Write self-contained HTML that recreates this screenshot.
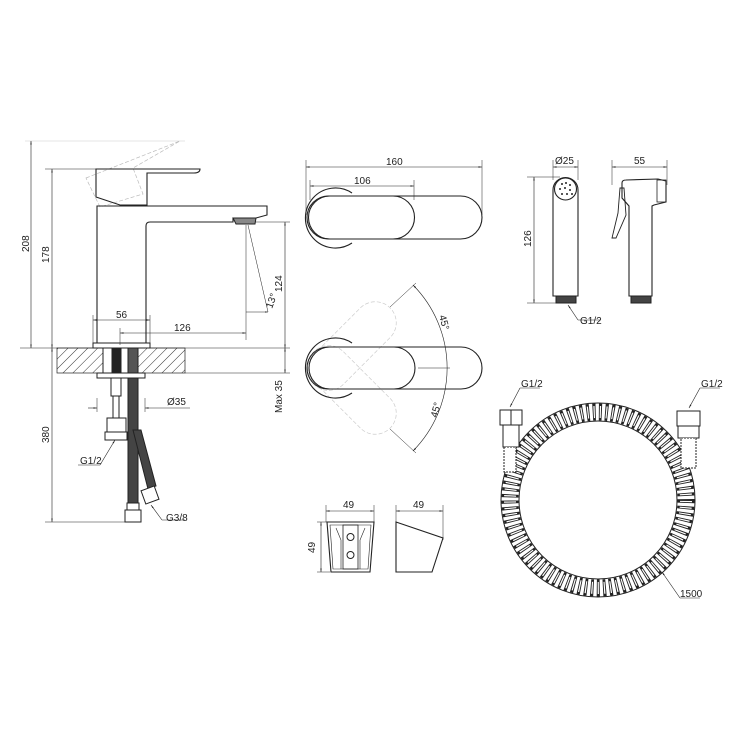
<!DOCTYPE html>
<html><head><meta charset="utf-8"><style>
html,body{margin:0;padding:0;background:#fff}
svg{display:block}
text{font-family:"Liberation Sans",sans-serif;font-size:10px;fill:#222}
</style></head><body>
<svg width="740" height="740" viewBox="0 0 740 740" xmlns="http://www.w3.org/2000/svg">
<defs>
<pattern id="hatch" width="7" height="7" patternUnits="userSpaceOnUse" patternTransform="rotate(45)">
<line x1="0" y1="0" x2="0" y2="7" stroke="#333" stroke-width="1"/>
</pattern>
<marker id="ar" viewBox="0 0 10 10" refX="10" refY="5" markerWidth="6" markerHeight="6" orient="auto-start-reverse"><path d="M0,3 L10,5 L0,7z" fill="#222"/></marker>
</defs>
<g fill="none" stroke="#222" stroke-width="1">
<line x1="25" y1="141" x2="185" y2="141" stroke="#ccc" stroke-width="0.6"/>
<line x1="45" y1="169" x2="96" y2="169" stroke-width="0.5"/>
<line x1="20" y1="348" x2="290" y2="348" stroke-width="0.5"/>
<line x1="185" y1="373" x2="290" y2="373" stroke-width="0.5"/>
<line x1="246" y1="222" x2="290" y2="222" stroke-width="0.5"/>
<line x1="45" y1="522" x2="130" y2="522" stroke-width="0.5"/>
<line x1="31" y1="141" x2="31" y2="348" stroke-width="0.6" marker-start="url(#ar)" marker-end="url(#ar)"/>
<line x1="52" y1="169" x2="52" y2="348" stroke-width="0.6" marker-start="url(#ar)" marker-end="url(#ar)"/>
<line x1="52" y1="348" x2="52" y2="522" stroke-width="0.6" marker-start="url(#ar)" marker-end="url(#ar)"/>
<line x1="285" y1="222" x2="285" y2="348" stroke-width="0.6" marker-start="url(#ar)" marker-end="url(#ar)"/>
<line x1="285" y1="348" x2="285" y2="373" stroke-width="0.6" marker-start="url(#ar)" marker-end="url(#ar)"/>
<line x1="93" y1="320" x2="150" y2="320" stroke-width="0.6" marker-start="url(#ar)" marker-end="url(#ar)"/>
<line x1="93" y1="315" x2="93" y2="343" stroke-width="0.5"/>
<line x1="150" y1="315" x2="150" y2="343" stroke-width="0.5"/>
<line x1="120" y1="333" x2="246" y2="333" stroke-width="0.6" marker-start="url(#ar)" marker-end="url(#ar)"/>
<line x1="120" y1="328" x2="120" y2="345" stroke-width="0.5"/>
<line x1="246" y1="225" x2="246" y2="340" stroke-width="0.5"/>
<line x1="248" y1="225" x2="268" y2="312" stroke-width="0.5"/>
<line x1="246" y1="312" x2="268" y2="312" stroke-width="0.5" marker-end="url(#ar)"/>
<line x1="88" y1="408" x2="97" y2="408" stroke-width="0.6" marker-end="url(#ar)"/>
<line x1="145" y1="408" x2="190" y2="408" stroke-width="0.6" marker-start="url(#ar)"/>
<line x1="97" y1="398" x2="97" y2="412" stroke-width="0.5"/>
<line x1="145" y1="398" x2="145" y2="412" stroke-width="0.5"/>
<g stroke="#bbb" stroke-dasharray="4,2" stroke-width="0.7">
<path d="M86,178 L180,141 L133,168 L143,194 L100,207 Z"/>
</g>
<path d="M96,169 L200,169 Q200,173 194,173 L147,173 L147,205 L120,205 L96,197 Z" stroke-width="1.1"/>
<path d="M97,343 L97,206 L267,206 L267,215 L256,218 L233,218 L233,222 L150,222 Q146,222 146,226 L146,343" stroke-width="1.1"/>
<path d="M233,218 L256,218 L255,224 L236,224 Z" fill="#888"/>
<rect x="93" y="343" width="57" height="5"/>
<rect x="57" y="348" width="128" height="25" fill="url(#hatch)" stroke-width="0.7"/>
<rect x="103" y="348" width="35" height="25" fill="#fff"/>
<rect x="112" y="348" width="9" height="25" fill="#222"/>
<rect x="128" y="348" width="10" height="25" fill="#555"/>
<rect x="97" y="373" width="48" height="5" fill="#fff"/>
<rect x="111" y="378" width="10" height="18" fill="#fff"/>
<rect x="113" y="396" width="6" height="22" fill="#fff"/>
<rect x="107" y="418" width="19" height="14" fill="#fff"/>
<rect x="105" y="432" width="22" height="8" fill="#fff"/>
<path d="M128,378 L138,378 L138,505 L128,505 Z" fill="#444"/>
<path d="M133,430 L141,430 L156,486 L148,489 Z" fill="#444"/>
<rect x="125" y="510" width="16" height="12" fill="#fff"/>
<rect x="127" y="503" width="12" height="7" fill="#fff"/>
<g transform="rotate(-20 150 495)"><rect x="143" y="488" width="14" height="14" fill="#fff"/></g>
<line x1="115" y1="440" x2="100" y2="465" stroke-width="0.6" marker-start="url(#ar)"/>
<line x1="100" y1="465" x2="78" y2="465" stroke-width="0.5"/>
<line x1="151" y1="505" x2="162" y2="520" stroke-width="0.6" marker-start="url(#ar)"/>
<line x1="162" y1="520" x2="185" y2="520" stroke-width="0.5"/>

<line x1="306" y1="160" x2="306" y2="215" stroke-width="0.5"/>
<line x1="482" y1="160" x2="482" y2="215" stroke-width="0.5"/>
<line x1="414" y1="180" x2="414" y2="200" stroke-width="0.5"/>
<line x1="310" y1="180" x2="310" y2="200" stroke-width="0.5"/>
<line x1="306" y1="167" x2="482" y2="167" stroke-width="0.6" marker-start="url(#ar)" marker-end="url(#ar)"/>
<line x1="310" y1="186" x2="414" y2="186" stroke-width="0.6" marker-start="url(#ar)" marker-end="url(#ar)"/>
<path d="M352,193 A30,30 0 1 0 352,243" stroke-width="1.1"/>
<rect x="307" y="196" width="175" height="43" rx="21.5" stroke-width="1.1"/>
<path d="M330,196 L393,196 A21.5,21.5 0 0 1 393,239 L330,239 A21.5,21.5 0 0 1 330,196" stroke-width="1.1"/>

<g stroke="#ccc" stroke-dasharray="4,2" stroke-width="0.7">
<g transform="rotate(-45 330 368)"><rect x="307" y="347" width="108" height="42" rx="21"/></g>
<g transform="rotate(45 330 368)"><rect x="307" y="347" width="108" height="42" rx="21"/></g>
</g>
<path d="M352,343 A30,30 0 1 0 352,393" stroke-width="1.1"/>
<rect x="307" y="347" width="175" height="42" rx="21" stroke-width="1.1"/>
<path d="M330,347 L394,347 A21,21 0 0 1 394,389 L330,389 A21,21 0 0 1 330,347" stroke-width="1.1"/>
<path d="M413,285 A118,118 0 0 1 413,451" stroke-width="0.6" marker-start="url(#ar)" marker-end="url(#ar)"/>
<line x1="390" y1="307" x2="416" y2="283" stroke-width="0.5"/>
<line x1="390" y1="429" x2="416" y2="453" stroke-width="0.5"/>
<line x1="418" y1="368" x2="450" y2="368" stroke-width="0.5"/>

<line x1="553" y1="160" x2="553" y2="180" stroke-width="0.5"/>
<line x1="578" y1="160" x2="578" y2="180" stroke-width="0.5"/>
<line x1="553" y1="167" x2="578" y2="167" stroke-width="0.6" marker-start="url(#ar)" marker-end="url(#ar)"/>
<line x1="527" y1="177" x2="560" y2="177" stroke-width="0.5"/>
<line x1="527" y1="303" x2="556" y2="303" stroke-width="0.5"/>
<line x1="534" y1="177" x2="534" y2="303" stroke-width="0.6" marker-start="url(#ar)" marker-end="url(#ar)"/>
<path d="M553,296 L553,190 A12.5,12.5 0 0 1 578,190 L578,296 Z" stroke-width="1.1"/>
<circle cx="565.5" cy="189" r="11" stroke-width="1.1"/>
<g fill="#222" stroke="none">
<circle cx="562" cy="184" r="1"/><circle cx="566" cy="183" r="1"/><circle cx="570" cy="185" r="1"/>
<circle cx="560" cy="189" r="1"/><circle cx="565" cy="188" r="1"/><circle cx="570" cy="190" r="1"/>
<circle cx="562" cy="194" r="1"/><circle cx="567" cy="194" r="1"/><circle cx="572" cy="194" r="1"/>
</g>
<rect x="556" y="296" width="20" height="7" fill="#444"/>
<line x1="568" y1="305" x2="578" y2="320" stroke-width="0.6" marker-start="url(#ar)"/>
<line x1="578" y1="320" x2="600" y2="320" stroke-width="0.5"/>

<line x1="612" y1="160" x2="612" y2="185" stroke-width="0.5"/>
<line x1="667" y1="160" x2="667" y2="185" stroke-width="0.5"/>
<line x1="612" y1="167" x2="667" y2="167" stroke-width="0.6" marker-start="url(#ar)" marker-end="url(#ar)"/>
<path d="M629,296 L629,206 L622,198 L622,183 Q622,180 626,180 L658,179 L666,181 L666,202 L654,205 L652,206 L652,296 Z" stroke-width="1.1"/>
<rect x="657" y="180" width="9" height="22" stroke-width="0.8"/>
<path d="M620,188 L624,188 L626,215 L616,238 L612,238 L618,213 Z" stroke-width="0.9"/>
<rect x="631" y="296" width="20" height="7" fill="#444"/>

<line x1="326" y1="505" x2="326" y2="522" stroke-width="0.5"/>
<line x1="374" y1="505" x2="374" y2="522" stroke-width="0.5"/>
<line x1="326" y1="511" x2="374" y2="511" stroke-width="0.6" marker-start="url(#ar)" marker-end="url(#ar)"/>
<line x1="317" y1="522" x2="330" y2="522" stroke-width="0.5"/>
<line x1="317" y1="572" x2="330" y2="572" stroke-width="0.5"/>
<line x1="321" y1="522" x2="321" y2="572" stroke-width="0.6" marker-start="url(#ar)" marker-end="url(#ar)"/>
<path d="M327,522 L374,522 L370,572 L331,572 Z" stroke-width="1.1"/>
<path d="M330,525 L371,525 L368,569 L333,569 Z" stroke-width="0.6"/>
<rect x="343" y="525" width="15" height="44" stroke-width="0.8"/>
<path d="M336,528 L341,540 L341,569 M365,528 L360,540 L360,569" stroke-width="0.6"/>
<circle cx="350.5" cy="537" r="3.5"/>
<circle cx="350.5" cy="555" r="3.5"/>
<line x1="396" y1="505" x2="396" y2="522" stroke-width="0.5"/>
<line x1="443" y1="505" x2="443" y2="540" stroke-width="0.5"/>
<line x1="396" y1="511" x2="443" y2="511" stroke-width="0.6" marker-start="url(#ar)" marker-end="url(#ar)"/>
<path d="M396,522 L443,538 L432,572 L396,572 Z" stroke-width="1.1"/>

<circle cx="598" cy="500" r="97" stroke-width="1"/>
<circle cx="598" cy="500" r="79" stroke-width="1"/>
<circle cx="598" cy="500" r="88" stroke="#222" stroke-width="17" stroke-dasharray="3,3.2"/>
<circle cx="598" cy="500" r="88" stroke="#fff" stroke-width="12" stroke-dasharray="1.2,5" stroke-dashoffset="-0.9"/>
<rect x="500" y="410" width="22" height="15" fill="#fff" stroke-width="1"/>
<line x1="511" y1="410" x2="511" y2="425"/>
<rect x="503" y="425" width="16" height="22" fill="#fff"/>
<rect x="504" y="447" width="12" height="25" fill="#fff" stroke-dasharray="2,1"/>
<rect x="677" y="411" width="23" height="15" fill="#fff"/>
<rect x="678" y="426" width="21" height="12" fill="#fff"/>
<rect x="681" y="438" width="15" height="30" fill="#fff" stroke-dasharray="2,1"/>
<line x1="510" y1="407" x2="520" y2="388" stroke-width="0.6" marker-start="url(#ar)"/>
<line x1="520" y1="388" x2="540" y2="388" stroke-width="0.5"/>
<line x1="689" y1="408" x2="700" y2="388" stroke-width="0.6" marker-start="url(#ar)"/>
<line x1="700" y1="388" x2="720" y2="388" stroke-width="0.5"/>
<line x1="662" y1="572" x2="680" y2="598" stroke-width="0.6" marker-start="url(#ar)"/>
<line x1="680" y1="598" x2="700" y2="598" stroke-width="0.5"/>
</g>

<text transform="translate(29,252) rotate(-90)">208</text>
<text transform="translate(49,263) rotate(-90)">178</text>
<text transform="translate(49,443) rotate(-90)">380</text>
<text transform="translate(282,292) rotate(-90)">124</text>
<text transform="translate(282,413) rotate(-90)">Max 35</text>
<text transform="translate(272,309) rotate(-70)">13°</text>
<text x="116" y="318">56</text>
<text x="174" y="331">126</text>
<text x="167" y="405">Ø35</text>
<text x="80" y="464">G1/2</text>
<text x="166" y="521">G3/8</text>
<text x="386" y="165">160</text>
<text x="354" y="184">106</text>
<text transform="translate(439,316) rotate(75)">45°</text>
<text transform="translate(437,418) rotate(-75)">45°</text>
<text x="555" y="164">Ø25</text>
<text x="634" y="164">55</text>
<text transform="translate(531,247) rotate(-90)">126</text>
<text x="580" y="324">G1/2</text>
<text x="521" y="387">G1/2</text>
<text x="701" y="387">G1/2</text>
<text x="680" y="597">1500</text>
<text x="343" y="508">49</text>
<text x="413" y="508">49</text>
<text transform="translate(315,553) rotate(-90)">49</text>
</svg>
</body></html>
